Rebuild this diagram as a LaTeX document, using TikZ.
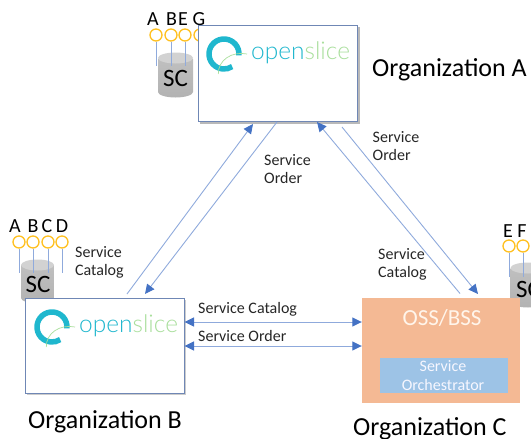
\documentclass[tikz,border=0pt]{standalone}
\usepackage{fontspec}
\setmainfont{Carlito}
\newfontfamily\logofont{Lato Light}
\usetikzlibrary{arrows.meta,shapes.geometric}
\definecolor{linkblue}{HTML}{8FAADC}
\definecolor{headblue}{HTML}{4472C4}
\definecolor{boxedge}{HTML}{6F87B5}
\definecolor{pinring}{HTML}{FFC01F}
\definecolor{orgorange}{HTML}{F4B994}
\definecolor{orchblue}{HTML}{9DC3E6}
\definecolor{ringblue}{HTML}{1FB7CE}
\definecolor{logogreen}{HTML}{A9DF9C}
\definecolor{inktext}{HTML}{262626}
\tikzset{
  x=1pt,y=-1pt,
  link/.style={draw=linkblue,line width=0.9pt},
  linkhead/.style={link,-{Triangle[length=9.5pt,width=9pt,fill=headblue,color=headblue]}},
  linkboth/.style={link,{Triangle[length=9.5pt,width=9pt,fill=headblue,color=headblue]}-{Triangle[length=9.5pt,width=9pt,fill=headblue,color=headblue]},line width=1pt},
  orgbox/.style={draw=boxedge,fill=white,line width=1pt,minimum width=0pt,inner sep=0pt},
  pinring/.style={circle,draw=pinring,fill=white,line width=1.3pt,minimum size=12pt,inner sep=0pt},
  pinline/.style={draw=linkblue,line width=0.9pt},
  lab/.style={font=\fontsize{16}{18.5}\selectfont,text=inktext,align=left,anchor=west,inner sep=0pt},
  pinlab/.style={font=\fontsize{20}{22}\selectfont,text=black,inner sep=0pt},
  orglab/.style={font=\fontsize{26}{28}\selectfont,text=black,anchor=west,inner sep=0pt},
  sclab/.style={font=\fontsize{25}{27}\selectfont,text=black,inner sep=0pt},
  logotext/.style={font=\logofont\fontsize{24.5}{27}\selectfont,anchor=west,inner sep=0pt},
  oss/.style={font=\fontsize{23}{25}\selectfont,text=orange!8!white,inner sep=0pt},
  orch/.style={font=\fontsize{16}{19}\selectfont,text=blue!3!white,align=center,inner sep=0pt},
  pics/slicelogo/.style={code={
    \draw[ringblue,line width=5.5pt] (5:15) arc[start angle=5,end angle=-303,radius=15];
    \draw[logogreen,line width=0.7pt] (-5.7,20) .. controls (-6,6) and (8,-3) .. (23,0);
    \node[logotext] at (27,-1) {\textcolor{ringblue}{open}\textcolor{logogreen}{slice}};
  }},
}
\begin{document}
\begin{tikzpicture}
\useasboundingbox (0,0) rectangle (531,439);
\clip (0,0) rectangle (531,439);

% ---------- Organization A ----------
\begin{scope}[shift={(175.5,75)}]
  \shade[top color=gray!50,bottom color=gray!60] (-17.5,-16) -- (-17.5,17)
    arc[x radius=17.5,y radius=5.5,start angle=180,end angle=0]
    -- (17.5,-16) -- cycle;
  \fill[gray!35] (0,-17) ellipse[x radius=17.5,y radius=5.5];
\end{scope}
\node[sclab] (scA) at (175.5,78) {SC};
\node[pinring] (a1) at (156,35) {};
\node[pinring] (a2) at (171,35) {};
\node[pinring] (a3) at (185,35) {};
\node[pinring] (a4) at (200,35) {};
\coordinate (a1e) at (156,66);
\coordinate (a2e) at (171,66);
\coordinate (a3e) at (185,66);
\coordinate (a4e) at (200,66);
\draw[pinline] (a1) -- (a1e);
\draw[pinline] (a2) -- (a2e);
\draw[pinline] (a3) -- (a3e);
\draw[pinline] (a4) -- (a4e);
\node[pinlab] (la) at (153,19.5) {A};
\node[pinlab] (lbe) at (177,19.5) {B\kern1pt E};
\node[pinlab] (lg) at (199,19.5) {G};
\fill[gray!55] (200,27) rectangle (359.5,123.5);
\node[orgbox,minimum width=159pt,minimum height=96pt] (A) at (277.5,73) {};
\pic at (224,54) {slicelogo};
\node[orglab] (oA) at (372,70) {Organization A};

% ---------- Organization B ----------
\begin{scope}[shift={(37.5,282)}]
  \shade[top color=gray!50,bottom color=gray!60] (-16.5,-17) -- (-16.5,16)
    arc[x radius=16.5,y radius=5.5,start angle=180,end angle=0]
    -- (16.5,-17) -- cycle;
  \fill[gray!35] (0,-17) ellipse[x radius=16.5,y radius=5.5];
\end{scope}
\node[sclab] (scB) at (38,284) {SC};
\node[pinring] (b1) at (19,242) {};
\node[pinring] (b2) at (33,242) {};
\node[pinring] (b3) at (48,242) {};
\node[pinring] (b4) at (62,242) {};
\coordinate (b1e) at (19,273);
\coordinate (b2e) at (33,273);
\coordinate (b3e) at (48,273);
\coordinate (b4e) at (62,273);
\draw[pinline] (b1) -- (b1e);
\draw[pinline] (b2) -- (b2e);
\draw[pinline] (b3) -- (b3e);
\draw[pinline] (b4) -- (b4e);
\node[pinlab] (lb1) at (15,226) {A};
\node[pinlab] (lb2) at (33,226) {B};
\node[pinlab] (lb3) at (47,226) {C};
\node[pinlab] (lb4) at (62,226) {D};
\fill[gray!40] (26.5,299.5) rectangle (185.5,394.5);
\node[orgbox,minimum width=159pt,minimum height=95pt] (B) at (104.5,345.5) {};
\pic at (52,327) {slicelogo};
\node[orglab] (oB) at (28,422) {Organization B};

% ---------- Organization C ----------
\begin{scope}[shift={(528,285)}]
  \shade[top color=gray!50,bottom color=gray!60] (-17.5,-17) -- (-17.5,17)
    arc[x radius=17.5,y radius=5.5,start angle=180,end angle=0]
    -- (17.5,-17) -- cycle;
  \fill[gray!35] (0,-17) ellipse[x radius=17.5,y radius=5.5];
\end{scope}
\node[sclab,anchor=west] (scC) at (516,289) {SC};
\node[pinring] (c1) at (509,246) {};
\node[pinring] (c2) at (523,246) {};
\coordinate (c1e) at (509,277);
\coordinate (c2e) at (523,277);
\draw[pinline] (c1) -- (c1e);
\draw[pinline] (c2) -- (c2e);
\node[pinlab] (lc1) at (508,231) {E};
\node[pinlab] (lc2) at (522,231) {F};
\node[fill=orgorange,minimum width=158pt,minimum height=105pt,inner sep=0pt] (C) at (441,350.5) {};
\node[oss] (ossl) at (442,318) {OSS/BSS};
\node[fill=orchblue,minimum width=128pt,minimum height=35pt,inner sep=0pt] (orchbox) at (444,375.5) {};
\node[orch] (orchl) at (443,375.5) {Service\\Orchestrator};
\node[orglab] (oC) at (353,428.5) {Organization C};

% ---------- Connectors ----------
\coordinate (p1s) at (127,294);
\coordinate (p1e) at (253,124);
\coordinate (p2s) at (277,122);
\coordinate (p2e) at (145,294);
\coordinate (p3s) at (460,293.5);
\coordinate (p3e) at (317,122);
\coordinate (p4s) at (342,127);
\coordinate (p4e) at (478,294);
\draw[linkhead] (p1s) -- (p1e);
\draw[linkhead] (p2s) -- (p2e);
\draw[linkhead] (p3s) -- (p3e);
\draw[linkhead] (p4s) -- (p4e);
\draw[linkboth] (B.east |- 0,322) -- (C.west |- 0,322);
\draw[linkboth] (B.east |- 0,346) -- (C.west |- 0,346);

% ---------- Labels ----------
\node[lab] (t1) at (264,169) {Service\\Order};
\node[lab] (t2) at (372.5,146) {Service\\Order};
\node[lab] (t3) at (75,262.5) {Service\\Catalog};
\node[lab] (t4) at (378,264.5) {Service\\Catalog};
\node[lab] (t5) at (198,309) {Service Catalog};
\node[lab] (t6) at (198,336) {Service Order};
\end{tikzpicture}
\end{document}
